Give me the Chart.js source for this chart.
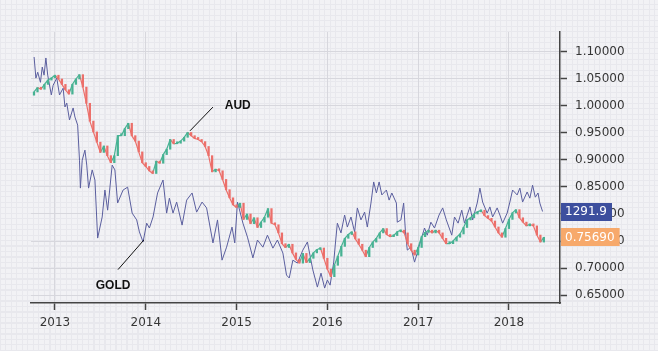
<!DOCTYPE html>
<html>
<head>
<meta charset="utf-8">
<script src="https://cdn.jsdelivr.net/npm/chart.js@4.4.1/dist/chart.umd.min.js"></script>
<style>
  html, body { margin: 0; padding: 0; }
  body {
    width: 658px; height: 351px; overflow: hidden;
    background-color: #f2f2f5;
    background-image:
      repeating-linear-gradient(0deg, #e8e8ed 0 1px, transparent 1px 5.5px),
      repeating-linear-gradient(90deg, #e8e8ed 0 1px, transparent 1px 5.5px);
  }
</style>
</head>
<body>
<canvas id="chart" width="658" height="351"></canvas>
<script>
// AUD/USD closes, every two weeks from Oct 2012 (decimal years on x)
const audStart = 2012.769;
const audStep = 1 / 26;
const audFirstOpen = 1.020;
const audClose = [
  1.026, 1.034, 1.031, 1.040, 1.048, 1.052, 1.057, 1.050, 1.040, 1.030,
  1.022, 1.040, 1.050, 1.058, 1.035, 1.005, 0.972, 0.952, 0.933, 0.914,
  0.926, 0.908, 0.895, 0.908, 0.945, 0.945, 0.958, 0.968, 0.945, 0.935,
  0.915, 0.895, 0.888, 0.880, 0.875, 0.898, 0.894, 0.910, 0.920, 0.938,
  0.930, 0.931, 0.935, 0.942, 0.951, 0.945, 0.940, 0.938, 0.934, 0.925,
  0.908, 0.878, 0.883, 0.880, 0.864, 0.845, 0.830, 0.817, 0.812, 0.820,
  0.790, 0.800, 0.782, 0.793, 0.775, 0.785, 0.794, 0.810, 0.783, 0.780,
  0.765, 0.745, 0.738, 0.744, 0.728, 0.716, 0.709, 0.727, 0.710, 0.718,
  0.728, 0.734, 0.737, 0.718, 0.698, 0.684, 0.705, 0.722, 0.740, 0.755,
  0.762, 0.767, 0.754, 0.744, 0.733, 0.721, 0.738, 0.748, 0.755, 0.765,
  0.773, 0.762, 0.758, 0.760, 0.767, 0.770, 0.765, 0.745, 0.733, 0.724,
  0.738, 0.758, 0.766, 0.770, 0.765, 0.770, 0.765, 0.755, 0.745, 0.745,
  0.750, 0.757, 0.763, 0.775, 0.789, 0.793, 0.800, 0.804, 0.807, 0.797,
  0.792, 0.787, 0.776, 0.765, 0.757, 0.773, 0.790, 0.802, 0.808, 0.793,
  0.785, 0.778, 0.781, 0.778, 0.761, 0.748, 0.7569
];

// gold price (USD), drawn on its own hidden scale
const goldYears = [
  2012.77, 2012.79, 2012.81, 2012.84, 2012.86, 2012.88, 2012.90, 2012.92, 2012.96, 2012.98,
  2013.02, 2013.05, 2013.09, 2013.11, 2013.13, 2013.16, 2013.20, 2013.22, 2013.25, 2013.27,
  2013.28, 2013.30, 2013.33, 2013.35, 2013.37, 2013.41, 2013.44, 2013.47, 2013.52, 2013.55,
  2013.58, 2013.63, 2013.66, 2013.69, 2013.75, 2013.80, 2013.85, 2013.90, 2013.93, 2013.97,
  2014.01, 2014.04, 2014.08, 2014.13, 2014.19, 2014.23, 2014.26, 2014.30, 2014.34, 2014.40,
  2014.45, 2014.51, 2014.56, 2014.62, 2014.67, 2014.74, 2014.79, 2014.84, 2014.89, 2014.95,
  2014.98, 2015.01, 2015.07, 2015.12, 2015.18, 2015.23, 2015.29, 2015.34, 2015.40, 2015.45,
  2015.51, 2015.55, 2015.58, 2015.62, 2015.67, 2015.73, 2015.78, 2015.84, 2015.89, 2015.93,
  2015.97, 2016.00, 2016.03, 2016.07, 2016.09, 2016.11, 2016.15, 2016.19, 2016.22, 2016.26,
  2016.30, 2016.33, 2016.37, 2016.41, 2016.44, 2016.48, 2016.51, 2016.54, 2016.57, 2016.60,
  2016.65, 2016.68, 2016.71, 2016.76, 2016.77, 2016.81, 2016.84, 2016.86, 2016.88, 2016.92,
  2016.96, 2016.99, 2017.03, 2017.07, 2017.10, 2017.14, 2017.18, 2017.23, 2017.27, 2017.31,
  2017.37, 2017.40, 2017.44, 2017.48, 2017.51, 2017.57, 2017.60, 2017.65, 2017.68, 2017.71,
  2017.76, 2017.79, 2017.82, 2017.87, 2017.90, 2017.93, 2017.98, 2018.01, 2018.04, 2018.09,
  2018.12, 2018.15, 2018.20, 2018.23, 2018.26, 2018.29, 2018.32, 2018.34, 2018.37
];
const goldPrice = [
  1768, 1703, 1721, 1690, 1737, 1712, 1765, 1712, 1651, 1681,
  1703, 1651, 1672, 1614, 1626, 1574, 1611, 1583, 1558, 1450,
  1364, 1450, 1481, 1435, 1364, 1420, 1389, 1210, 1275, 1358,
  1296, 1435, 1420, 1318, 1358, 1367, 1287, 1266, 1229, 1198,
  1256, 1241, 1275, 1349, 1389, 1287, 1333, 1287, 1321, 1250,
  1327, 1349, 1290, 1321, 1303, 1195, 1266, 1142, 1182, 1244,
  1195, 1321, 1256, 1213, 1149, 1204, 1182, 1219, 1179, 1204,
  1164, 1096, 1087, 1142, 1133, 1173, 1198, 1112, 1059, 1102,
  1056, 1081, 1065, 1136, 1198, 1256, 1226, 1281, 1244, 1275,
  1229, 1303, 1266, 1290, 1244, 1318, 1383, 1349, 1383, 1343,
  1358, 1327, 1349, 1318, 1259, 1266, 1318, 1229, 1173, 1182,
  1136, 1164, 1204, 1241, 1219, 1259, 1241, 1281, 1303, 1266,
  1219, 1275, 1256, 1296, 1256, 1306, 1266, 1318, 1364, 1321,
  1287, 1306, 1275, 1303, 1281, 1256, 1287, 1321, 1358, 1343,
  1364, 1321, 1352, 1333, 1373, 1336, 1349, 1318, 1291.9
];

const yearTicks = [2013, 2014, 2015, 2016, 2017, 2018];
const audTicks = [0.65, 0.70, 0.75, 0.80, 0.85, 0.90, 0.95, 1.00, 1.05, 1.10];

const upColor = "#47b293";
const downColor = "#ec6f6a";
const goldColor = "#5a5e9e";

const candles = audClose.map((c, i) => ({
    x: audStart + i * audStep,
    y: [i ? audClose[i - 1] : audFirstOpen, c]
}));
const audPoints = audClose.map((c, i) => ({ x: audStart + i * audStep, y: c }));
const goldPoints = goldYears.map((x, i) => ({ x: x, y: goldPrice[i] }));

// leader labels, placed in data units (AUD scale)
const notes = [
    { text: "AUD", from: [2014.487, 0.954], to: [2014.74, 0.998], at: [2014.87, 1.001], align: "left" },
    { text: "GOLD", from: [2013.98, 0.752], to: [2013.694, 0.697], at: [2013.64, 0.667], align: "center" }
];

const notesPlugin = {
    id: "notes",
    afterDatasetsDraw(chart) {
        const ctx = chart.ctx, xs = chart.scales.x, ys = chart.scales.y;
        ctx.save();
        ctx.strokeStyle = "#111";
        ctx.lineWidth = 1;
        ctx.fillStyle = "#111";
        ctx.font = "bold 12px 'Liberation Sans', Arial, sans-serif";
        ctx.textBaseline = "middle";
        notes.forEach(n => {
            ctx.beginPath();
            ctx.moveTo(xs.getPixelForValue(n.from[0]), ys.getPixelForValue(n.from[1]));
            ctx.lineTo(xs.getPixelForValue(n.to[0]), ys.getPixelForValue(n.to[1]));
            ctx.stroke();
            ctx.textAlign = n.align;
            ctx.fillText(n.text, xs.getPixelForValue(n.at[0]), ys.getPixelForValue(n.at[1]));
        });
        ctx.restore();
    }
};

// last-value tags on the price axis
const tagsPlugin = {
    id: "tags",
    afterDraw(chart) {
        const ctx = chart.ctx;
        const left = chart.chartArea.right + 1;
        const tags = [
            { text: goldPrice[goldPrice.length - 1].toFixed(1), y: chart.scales.y2.getPixelForValue(goldPrice[goldPrice.length - 1]), bg: "#3d4f9e" },
            { text: audClose[audClose.length - 1].toFixed(5), y: chart.scales.y.getPixelForValue(audClose[audClose.length - 1]), bg: "#f7a96b" }
        ];
        ctx.save();
        ctx.font = "12px 'DejaVu Sans', sans-serif";
        ctx.textBaseline = "middle";
        ctx.textAlign = "left";
        tags.forEach(t => {
            const w = ctx.measureText(t.text).width + 9;
            ctx.fillStyle = t.bg;
            ctx.fillRect(left, Math.round(t.y - 9), w, 18);
            ctx.fillStyle = "#fff";
            ctx.fillText(t.text, left + 4, t.y + 0.5);
        });
        ctx.restore();
    }
};

Chart.defaults.font.family = "'DejaVu Sans', sans-serif";
Chart.defaults.font.size = 12;
Chart.defaults.color = "#363636";

new Chart(document.getElementById("chart"), {
    type: "bar",
    data: {
        datasets: [
            {
                type: "line",
                label: "GOLD",
                data: goldPoints,
                yAxisID: "y2",
                borderColor: goldColor,
                borderWidth: 1,
                pointRadius: 0,
                tension: 0,
                order: 3
            },
            {
                type: "line",
                label: "AUD path",
                data: audPoints,
                yAxisID: "y",
                borderWidth: 1.2,
                pointRadius: 0,
                tension: 0,
                segment: {
                    borderColor: s => (s.p1.parsed.y >= s.p0.parsed.y ? upColor : downColor)
                },
                order: 2
            },
            {
                type: "bar",
                label: "AUD",
                data: candles,
                yAxisID: "y",
                backgroundColor: c => (c.raw.y[1] >= c.raw.y[0] ? upColor : downColor),
                borderWidth: 0,
                barThickness: 1.6,
                minBarLength: 2,
                order: 1
            }
        ]
    },
    options: {
        responsive: false,
        animation: false,
        layout: { padding: { left: 31, top: 32, right: 0, bottom: 0 } },
        plugins: { legend: { display: false }, tooltip: { enabled: false } },
        scales: {
            x: {
                type: "linear",
                min: 2012.736,
                max: 2018.562,
                offset: false,
                afterBuildTicks: s => { s.ticks = yearTicks.map(v => ({ value: v })); },
                afterFit: s => { s.height = 48; },
                ticks: { callback: v => String(v), padding: 6, maxRotation: 0 },
                grid: { offset: false, color: "#d7d7dd", lineWidth: 1, tickLength: 7, tickColor: "#444", tickWidth: 1.5 },
                border: { display: true, color: "#444", width: 1.5 }
            },
            y: {
                position: "right",
                min: 0.6352,
                max: 1.137,
                beginAtZero: false,
                afterBuildTicks: s => { s.ticks = audTicks.map(v => ({ value: v })); },
                afterFit: s => { s.width = 98; },
                ticks: { callback: v => v.toFixed(5), padding: 8 },
                grid: { color: "#d7d7dd", lineWidth: 1, tickLength: 7, tickColor: "#444", tickWidth: 1.5 },
                border: { display: true, color: "#444", width: 1.5 }
            },
            y2: {
                display: false,
                min: 1010,
                max: 1845
            }
        }
    },
    plugins: [notesPlugin, tagsPlugin]
});
</script>
</body>
</html>
